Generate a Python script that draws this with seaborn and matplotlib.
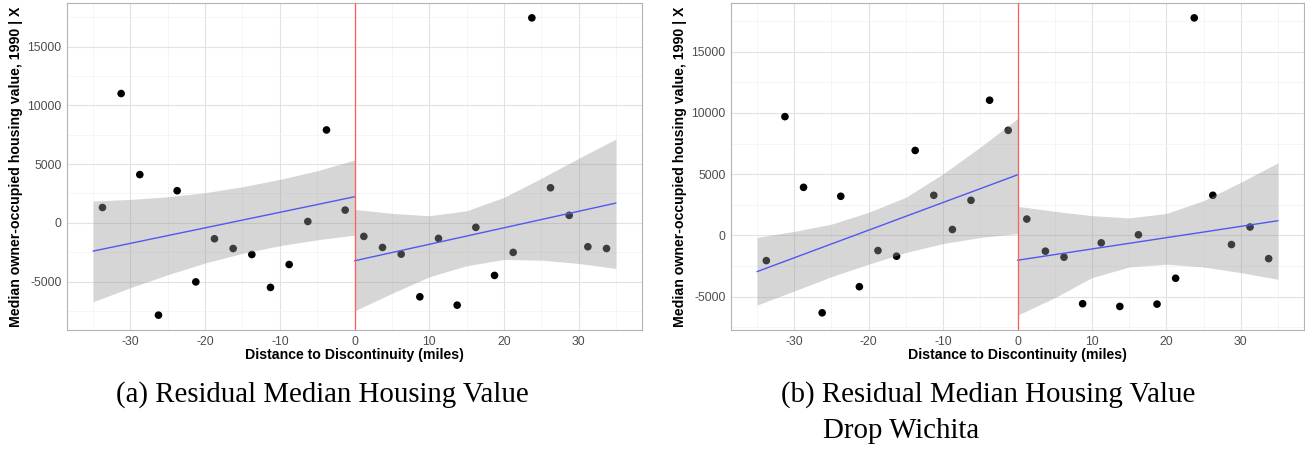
import numpy as np
import seaborn as sns
import matplotlib.pyplot as plt
from matplotlib.ticker import MultipleLocator

# bin centres, miles from the discontinuity
binsLeft = [-33.75, -31.25, -28.75, -26.25, -23.75, -21.25, -18.75,
            -16.25, -13.75, -11.25, -8.75, -6.25, -3.75, -1.25]
binsRight = [1.25, 3.75, 6.25, 8.75, 11.25, 13.75, 16.25,
             18.75, 21.25, 23.75, 26.25, 28.75, 31.25, 33.75]

# x grid for the fitted lines and their confidence bands
fitLeftX = [-35, -30, -25, -20, -15, -10, -5, 0]
fitRightX = [0, 5, 10, 15, 20, 25, 30, 35]

# (a) residual median housing value
aLeftY = [1300, 11000, 4100, -7860, 2730, -5030, -1360,
          -2190, -2700, -5500, -3550, 110, 7900, 1080]
aRightY = [-1160, -2100, -2670, -6300, -1330, -7010, -390,
           -4480, -2520, 17440, 2980, 630, -2040, -2190]
aLeftFit = [-2410, -1750, -1090, -430, 230, 890, 1550, 2215]
aLeftLo = [-6720, -5520, -4420, -3420, -2600, -1950, -1450, -1050]
aLeftHi = [1850, 1990, 2215, 2560, 3070, 3690, 4430, 5340]
aRightFit = [-3237, -2535, -1833, -1131, -429, 273, 975, 1677]
aRightLo = [-7500, -6010, -4600, -3660, -3120, -3180, -3460, -3890]
aRightHi = [1140, 800, 600, 1020, 2160, 3780, 5480, 7130]

# (b) residual median housing value, Wichita dropped
bLeftY = [-2050, 9700, 3930, -6310, 3200, -4180, -1230,
          -1690, 6940, 3280, 490, 2870, 11040, 8580]
bRightY = [1340, -1280, -1770, -5570, -600, -5790, 60,
           -5600, -3490, 17760, 3280, -740, 690, -1890]
bLeftFit = [-2950, -1820, -690, 435, 1565, 2695, 3820, 4950]
bLeftLo = [-5680, -4530, -3360, -2340, -1390, -660, -160, 160]
bLeftHi = [-160, 330, 930, 1890, 3120, 5030, 7210, 9540]
bRightFit = [-2020, -1560, -1100, -640, -180, 280, 745, 1205]
bRightLo = [-6500, -5080, -3440, -2570, -2340, -2570, -3030, -3570]
bRightHi = [2380, 1970, 1620, 1430, 1800, 2840, 4340, 5930]

sns.set_theme(style="whitegrid")
plt.rcParams['font.family'] = ['Liberation Sans', 'DejaVu Sans']
plt.rcParams['axes.unicode_minus'] = False

borderColour = '#B3B3B3'


def expandRange(values, frac=0.05):
    lo, hi = np.min(values), np.max(values)
    pad = (hi - lo) * frac
    return lo - pad, hi + pad


def plotRDPanel(ax, leftY, rightY, leftFit, leftLo, leftHi, rightFit, rightLo, rightHi):
    for xs, ys in ((binsLeft, leftY), (binsRight, rightY)):
        sns.scatterplot(x=xs, y=ys, color='black', s=30, edgecolor='none',
                        ax=ax, zorder=2)
    for xs, fit, lo, hi in ((fitLeftX, leftFit, leftLo, leftHi),
                            (fitRightX, rightFit, rightLo, rightHi)):
        ax.fill_between(xs, lo, hi, color='#999999', alpha=0.4, lw=0, zorder=3)
        sns.lineplot(x=xs, y=fit, color='#5058F2', lw=1.0, ax=ax, zorder=4)
    ax.axvline(0, color='#FF5C5C', lw=0.9, zorder=5)

    ax.set_xlim(expandRange(fitLeftX + fitRightX))
    ax.set_ylim(expandRange(leftY + rightY + leftLo + leftHi + rightLo + rightHi))
    ax.xaxis.set_major_locator(MultipleLocator(10))
    ax.xaxis.set_minor_locator(MultipleLocator(5))
    ax.yaxis.set_major_locator(MultipleLocator(5000))
    ax.yaxis.set_minor_locator(MultipleLocator(2500))
    ax.grid(which='major', color='#E2E2E2', lw=0.8)
    ax.grid(which='minor', color='#F1F1F1', lw=0.5)
    ax.tick_params(which='major', length=2.5, width=0.6, color=borderColour,
                   labelcolor='#4D4D4D', labelsize=8.8, pad=1.5)
    ax.tick_params(which='minor', length=0)
    for spine in ax.spines.values():
        spine.set_color(borderColour)
        spine.set_linewidth(0.8)
    ax.set_xlabel('Distance to Discontinuity (miles)', fontsize=10.2,
                  fontweight='bold', color='black', labelpad=0.5)
    ax.set_ylabel('Median owner-occupied housing value, 1990 | X', fontsize=10.2,
                  fontweight='bold', color='black', labelpad=3)


fig = plt.figure(figsize=(13.05, 4.49), dpi=100)
axA = fig.add_axes([67 / 1305, 119 / 449, 575 / 1305, 327 / 449])
axB = fig.add_axes([731 / 1305, 119 / 449, 573 / 1305, 327 / 449])

plotRDPanel(axA, aLeftY, aRightY, aLeftFit, aLeftLo, aLeftHi,
            aRightFit, aRightLo, aRightHi)
plotRDPanel(axB, bLeftY, bRightY, bLeftFit, bLeftLo, bLeftHi,
            bRightFit, bRightLo, bRightHi)

captionFont = dict(family=['Liberation Serif', 'DejaVu Serif'], fontsize=20.8,
                   color='black', va='center', ha='left')
fig.text(116 / 1305, 1 - 395 / 449, '(a) Residual Median Housing Value', **captionFont)
fig.text(781 / 1305, 1 - 395 / 449, '(b) Residual Median Housing Value', **captionFont)
fig.text(823 / 1305, 1 - 431 / 449, 'Drop Wichita', **captionFont)

fig.savefig('out.png', dpi=100)
